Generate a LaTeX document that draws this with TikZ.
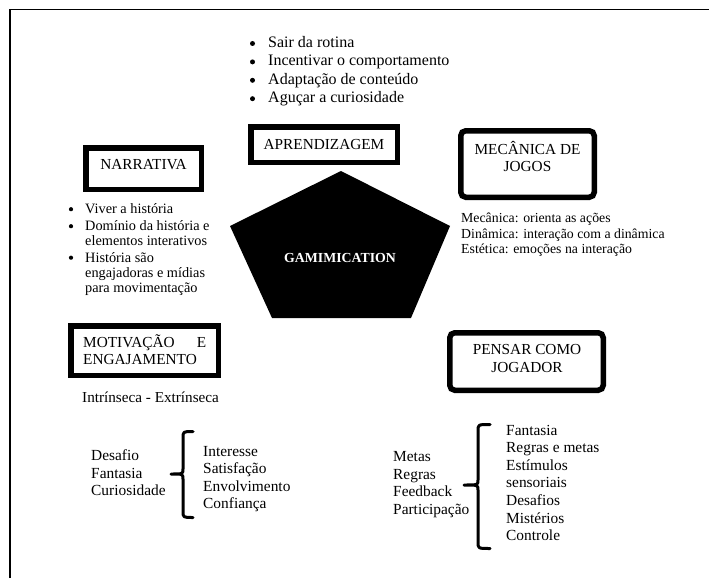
\documentclass[tikz,border=0pt]{standalone}
\usepackage{fontspec}
\setmainfont{Liberation Serif}
\begin{document}
\begin{tikzpicture}[x=1pt,y=-1pt,
  thickbox/.style={draw,line width=5.5pt},
  roundbox/.style={draw,line width=5.5pt,rounded corners=5pt},
  bracepath/.style={draw,line width=3pt,line cap=round,line join=round},
  dotmark/.style={circle,fill,inner sep=0pt,minimum size=#1},
  lbl/.style={inner sep=0pt,font=\fontsize{15.3}{17}\selectfont},
  toptxt/.style={inner sep=0pt,anchor=base west,font=\fontsize{16}{18}\selectfont},
  narrtxt/.style={inner sep=0pt,anchor=base west,font=\fontsize{14.3}{15}\selectfont},
  mechtxt/.style={inner sep=0pt,anchor=base west,font=\fontsize{13.8}{15}\selectfont},
  bottxt/.style={inner sep=0pt,anchor=base west,font=\fontsize{15.4}{17}\selectfont}]
\useasboundingbox (0,0) rectangle (709,578);

% frame
\draw[line width=1.5pt] (10,578) -- (10,9.5) -- (709,9.5);

% top list
\foreach \t [count=\i] in {{Sair da rotina},{Incentivar o comportamento},{Adaptação de conteúdo},{Aguçar a curiosidade}}{
  \node[toptxt] (top\i) at (268,{47.5+(\i-1)*18.4}) {\t};
  \node[dotmark=5pt] (topb\i) at (252.5,{43.5+(\i-1)*18.4}) {};
}

% APRENDIZAGEM
\draw[thickbox] (250.75,126.75) rectangle (397.25,162.25);
\node[lbl,anchor=base] (aprend) at (324,149.3) {APRENDIZAGEM};

% NARRATIVA
\draw[thickbox] (85.75,147.75) rectangle (201.25,189.25);
\node[lbl,anchor=base] (narr) at (143.5,169.5) {NARRATIVA};
\foreach \t/\yy/\b [count=\i] in {{Viver a história}/213.5/1,{Domínio da história e}/230.5/1,{elementos interativos}/245.5/0,{História são}/262/1,{engajadoras e mídias}/277/0,{para movimentação}/292/0}{
  \node[narrtxt] (narr\i) at (85,\yy) {\t};
  \ifnum\b=1 \node[dotmark=4.2pt] (narrb\i) at (71,\yy-4.3) {};\fi
}

% MECANICA DE JOGOS
\draw[roundbox] (460.75,130.75) rectangle (594.25,197.25);
\node[lbl,anchor=base] (mec1) at (527.5,154.3) {MECÂNICA DE};
\node[lbl,anchor=base] (mec2) at (527.5,171.7) {JOGOS};
\foreach \t [count=\i] in {{Mecânica: orienta as ações},{Dinâmica: interação com a dinâmica},{Estética: emoções na interação}}{
  \node[mechtxt] (mech\i) at (461,{222.5+(\i-1)*15.5}) {\t};
}

% pentagon
\fill (341,171) -- (450,226) -- (411,318) -- (272,318) -- (230,226) -- cycle;
\node[inner sep=0pt,anchor=base,text=white,font=\fontsize{13.8}{15}\selectfont\bfseries] (gam) at (340,262.3) {GAMIMICATION};

% MOTIVACAO E ENGAJAMENTO
\draw[thickbox] (70.75,325.75) rectangle (218.25,375.25);
\node[lbl,anchor=base west] (mot1) at (83,347.5) {\makebox[123pt][s]{MOTIVAÇÃO E}};
\node[lbl,anchor=base west] (mot2) at (83,364.5) {ENGAJAMENTO};
\node[bottxt,font=\fontsize{15.2}{17}\selectfont] (intr) at (82,402.7) {Intrínseca - Extrínseca};

\foreach \t [count=\i] in {Desafio,Fantasia,Curiosidade}{
  \node[bottxt] (ml\i) at (91,{460.5+(\i-1)*17.5}) {\t};
}
\foreach \t [count=\i] in {Interesse,Satisfação,Envolvimento,Confiança}{
  \node[bottxt] (mr\i) at (203,{456+(\i-1)*17.5}) {\t};
}
\draw[bracepath] (193,431.5) .. controls (183,431.5) .. (183,438) -- (183,469)
  .. controls (183,474) .. (171,474) .. controls (183,474) .. (183,479) -- (183,511)
  .. controls (183,517.5) .. (193,517.5);

% PENSAR COMO JOGADOR
\draw[roundbox] (449.75,332.75) rectangle (603.25,390.25);
\node[lbl,anchor=base] (pen1) at (527,354.3) {PENSAR COMO};
\node[lbl,anchor=base] (pen2) at (527,372.3) {JOGADOR};

\foreach \t [count=\i] in {Metas,Regras,Feedback,Participação}{
  \node[bottxt] (pl\i) at (393,{461.5+(\i-1)*17.7}) {\t};
}
\foreach \t [count=\i] in {Fantasia,{Regras e metas},Estímulos,sensoriais,Desafios,Mistérios,Controle}{
  \node[bottxt] (pr\i) at (506,{435+(\i-1)*17.6}) {\t};
}
\draw[bracepath] (490,424.5) .. controls (478,424.5) .. (478,431) -- (478,480)
  .. controls (478,485) .. (464,485) .. controls (478,485) .. (478,490) -- (478,542)
  .. controls (478,548.5) .. (490,548.5);
\end{tikzpicture}
\end{document}
